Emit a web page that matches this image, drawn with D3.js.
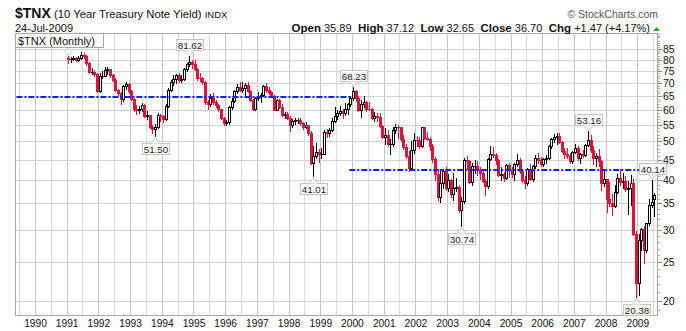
<!DOCTYPE html>
<html><head><meta charset="utf-8">
<script src="https://cdn.jsdelivr.net/npm/d3@7"></script>
<style>
body{margin:0;background:#fff}
svg{display:block;font-family:"Liberation Sans",Arial,sans-serif}
</style>
</head><body>
<svg id="c" width="686" height="331"></svg>
<script>
// ---------------- DATA ($TNX monthly, Jan 1991 - Jul 2009) ----------------
const firstMonth = "1991-01";
const opens = [
 80.8,80.3,80.5,80.8,80.1,80.8,82.4,81.9,78.5,74.7,74.8,73.8,
 67.0,72.9,73.1,75.5,75.7,73.2,71.4,67.1,66.1,63.7,68.7,69.6,
 67.0,63.9,60.3,60.1,60.4,61.6,58.0,58.1,54.5,53.8,54.3,58.2,
 57.9,56.8,61.5,67.4,70.4,71.5,73.2,71.1,71.7,76.0,78.1,79.1,
 78.2,75.9,72.2,72.0,70.6,62.8,62.0,64.3,62.8,61.7,60.2,57.4,
 55.7,55.8,61.0,63.3,66.7,68.5,67.1,67.9,69.4,67.0,63.4,60.4,
 64.2,64.9,65.5,69.0,67.2,66.6,65.0,60.1,63.4,61.0,58.3,58.7,
 57.4,55.1,56.2,56.5,56.7,55.5,54.5,54.9,52.6,44.2,46.1,47.1,
 46.5,46.6,52.9,52.4,53.5,56.2,57.8,59.0,59.7,58.8,60.2,61.9,
 64.4,66.7,64.1,60.0,62.1,62.7,60.3,60.2,57.3,58.0,57.5,54.7,
 51.2,51.9,49.2,49.3,53.5,54.3,54.2,50.7,48.5,46.0,43.0,47.5,
 50.5,50.3,48.8,54.2,51.1,50.6,48.6,45.1,41.4,36.3,39.3,42.2,
 38.3,40.0,37.0,38.3,38.5,33.7,35.4,44.9,44.7,39.6,43.3,43.4,
 42.5,41.6,39.9,38.6,45.3,46.6,46.2,45.0,41.3,41.4,40.5,43.6,
 42.4,41.4,43.8,45.0,42.1,40.0,39.4,42.8,40.2,43.3,45.6,44.9,
 43.9,45.3,45.5,48.6,50.7,51.2,51.5,49.9,47.4,46.4,46.1,44.6,
 47.1,48.3,45.6,46.5,46.3,48.9,50.3,47.7,45.4,45.9,44.8,39.4,
 40.2,35.9,35.1,34.4,37.4,40.6,39.7,39.9,38.1,38.3,39.4,29.3,
 22.2,28.4,30.2,26.7,31.2,34.6,35.89
];
const highs = [
 82.0,81.2,82.0,81.4,81.6,83.6,83.0,82.2,78.9,76.3,75.6,74.0,
 74.0,75.0,76.6,76.8,76.0,73.8,72.0,67.8,66.4,69.4,70.4,70.0,
 67.3,64.2,61.6,61.2,62.4,61.9,59.5,58.3,55.0,55.4,58.8,58.7,
 58.3,61.9,68.0,71.2,73.3,73.6,74.0,73.4,76.4,78.7,81.62,79.9,
 79.7,76.4,74.2,72.6,71.0,63.6,65.8,66.0,63.5,62.2,60.4,57.6,
 56.6,61.5,64.1,67.2,69.5,70.6,70.5,70.0,70.6,67.4,63.8,64.6,
 66.6,66.2,69.4,70.2,68.4,67.0,65.3,63.9,63.8,62.0,59.4,59.2,
 57.8,56.8,57.3,57.4,57.3,55.9,55.9,55.1,53.1,48.7,49.5,47.9,
 48.2,53.3,53.8,54.0,57.3,60.9,60.0,61.2,60.4,62.5,62.4,64.8,
 68.23,67.3,64.9,63.5,65.1,63.1,62.7,60.6,59.3,58.8,59.0,55.1,
 54.0,53.3,50.6,54.2,55.2,54.9,54.4,51.8,49.2,47.4,50.2,52.6,
 51.6,51.3,54.5,54.4,52.8,51.4,49.3,45.8,42.3,42.6,42.7,43.2,
 41.5,40.2,41.6,40.5,39.0,36.4,45.4,46.1,45.0,44.1,44.9,44.7,
 43.2,42.4,40.3,45.6,48.7,48.5,46.8,45.2,43.1,41.9,43.8,44.1,
 43.2,44.1,46.4,45.4,42.4,40.9,43.0,43.9,43.6,46.2,46.7,45.7,
 45.6,46.2,48.9,51.1,52.2,52.5,52.4,50.0,48.1,48.2,46.9,47.4,
 49.3,48.8,46.9,47.6,49.3,53.16,51.8,48.8,46.9,47.8,44.9,42.8,
 40.3,39.6,36.9,38.9,41.4,42.7,41.6,40.9,39.9,41.2,40.3,29.8,
 29.4,30.4,30.8,31.3,36.0,40.14,37.12
];
const lows = [
 78.6,78.8,79.8,79.4,79.5,80.4,81.0,77.8,74.3,73.6,73.0,66.6,
 66.5,72.0,72.8,73.8,72.6,71.0,66.8,65.2,62.2,63.0,67.6,66.2,
 63.6,59.7,58.6,58.9,59.6,57.7,56.9,54.0,52.6,51.50,54.0,56.4,
 55.8,56.5,61.0,66.9,69.3,69.9,70.6,70.6,71.2,75.1,77.4,76.5,
 75.4,71.4,71.0,69.8,62.2,60.2,61.4,62.0,60.9,59.6,56.9,55.0,
 54.9,55.3,60.2,62.6,66.0,66.8,66.4,65.2,66.5,63.0,60.0,60.0,
 63.6,62.8,65.0,66.4,65.6,64.6,59.8,59.9,60.8,57.8,57.3,56.8,
 53.0,54.3,55.2,55.7,54.9,53.7,54.0,51.9,43.8,41.01,45.4,44.4,
 45.4,46.5,51.2,51.5,53.0,55.8,56.9,58.4,57.3,58.3,58.7,61.3,
 63.6,63.1,59.6,57.7,61.0,59.7,59.9,57.0,56.3,56.4,54.2,50.9,
 49.3,48.6,46.4,48.6,52.4,50.9,50.1,47.8,45.4,42.1,42.4,46.7,
 48.7,48.1,48.5,50.6,50.4,47.5,44.5,40.1,35.6,35.3,38.2,37.8,
 37.7,36.4,35.7,37.5,33.4,30.74,35.0,42.6,39.3,39.0,41.8,41.3,
 40.2,39.6,36.8,38.3,44.9,45.7,43.9,41.1,40.1,39.8,40.3,40.7,
 40.8,40.1,43.5,41.7,39.7,38.2,39.0,40.1,39.9,43.0,44.3,43.5,
 43.3,44.2,45.2,48.2,49.8,49.4,49.6,47.0,45.6,45.6,44.3,44.2,
 46.7,45.0,44.2,45.8,46.0,48.6,47.0,43.9,43.5,43.4,37.8,38.8,
 33.4,34.4,32.7,34.3,37.1,38.9,38.2,37.5,33.0,34.6,29.2,20.38,
 20.7,26.7,24.8,26.4,30.9,34.2,32.65
];
const closes = [
 80.3,80.5,80.8,80.1,80.8,82.4,81.9,78.5,74.7,74.8,73.8,67.0,
 72.9,73.1,75.5,75.7,73.2,71.4,67.1,66.1,63.7,68.7,69.6,67.0,
 63.9,60.3,60.1,60.4,61.6,58.0,58.1,54.5,53.8,54.3,58.2,57.9,
 56.8,61.5,67.4,70.4,71.5,73.2,71.1,71.7,76.0,78.1,79.1,78.2,
 75.9,72.2,72.0,70.6,62.8,62.0,64.3,62.8,61.7,60.2,57.4,55.7,
 55.8,61.0,63.3,66.7,68.5,67.1,67.9,69.4,67.0,63.4,60.4,64.2,
 64.9,65.5,69.0,67.2,66.6,65.0,60.1,63.4,61.0,58.3,58.7,57.4,
 55.1,56.2,56.5,56.7,55.5,54.5,54.9,52.6,44.2,46.1,47.1,46.5,
 46.6,52.9,52.4,53.5,56.2,57.8,59.0,59.7,58.8,60.2,61.9,64.4,
 66.7,64.1,60.0,62.1,62.7,60.3,60.2,57.3,58.0,57.5,54.7,51.2,
 51.9,49.2,49.3,53.5,54.3,54.2,50.7,48.5,46.0,43.0,47.5,50.5,
 50.3,48.8,54.2,51.1,50.6,48.6,45.1,41.4,36.3,39.3,42.2,38.3,
 40.0,37.0,38.3,38.5,33.7,35.4,44.9,44.7,39.6,43.3,43.4,42.5,
 41.6,39.9,38.6,45.3,46.6,46.2,45.0,41.3,41.4,40.5,43.6,42.4,
 41.4,43.8,45.0,42.1,40.0,39.4,42.8,40.2,43.3,45.6,44.9,43.9,
 45.3,45.5,48.6,50.7,51.2,51.5,49.9,47.4,46.4,46.1,44.6,47.1,
 48.3,45.6,46.5,46.3,48.9,50.3,47.7,45.4,45.9,44.8,39.4,40.2,
 35.9,35.1,34.4,37.4,40.6,39.7,39.9,38.1,38.3,39.4,29.3,22.2,
 28.4,30.2,26.7,31.2,34.6,35.23,36.70
];
const yearLabels = ["1990","1991","1992","1993","1994","1995","1996","1997","1998","1999",
                    "2000","2001","2002","2003","2004","2005","2006","2007","2008","2009"];
const yTicks = [20,25,30,35,40,45,50,55,60,65,70,75,80,85];
// swing-point annotations
const annotMonths = ["1991-01","1993-10","1994-11","1998-10","2000-01","2003-06","2007-06","2008-12","2009-06"];
const annotValues = [82.0,51.50,81.62,41.01,68.23,30.74,53.16,20.38,40.14];
const annotSides  = ["high","low","high","low","high","low","high","low","high"];
// horizontal dash-dot lines
const trendValues = [64.7,42.4];
const trendFrom   = ["1989-06","1999-12"];
const trendTo     = ["2000-01","2009-12"];

// ---------------- LAYOUT ----------------
const W=686,H=331, L=15,R=658,T=33,B=316;
const RED="#dc143c", BLACK="#000", BLUE="#1022f5";
const svg=d3.select("#c");
const parseM=d3.timeParse("%Y-%m");
const mid = d => d3.timeDay.offset(d,14);
const x=d3.scaleTime().domain([new Date(1990,0,1),new Date(2009,0,1)]).range([35,637.3]);
const y=d3.scaleLog().domain([20,85]).range([300.7,49.3]);
const months=d3.timeMonth.range(parseM(firstMonth), d3.timeMonth.offset(parseM(firstMonth),closes.length));
const data=months.map((d,i)=>({d:mid(d),o:opens[i],h:highs[i],l:lows[i],c:closes[i],pc:i?closes[i-1]:opens[i]}));

// grid
const grid=svg.append("g").attr("shape-rendering","crispEdges");
d3.timeMonth.every(6).range(x.invert(L+1),x.invert(R)).forEach(d=>{
  const xx=Math.round(x(d))+0.5;
  grid.append("line").attr("x1",xx).attr("x2",xx).attr("y1",T).attr("y2",B)
    .attr("stroke",d.getMonth()===0?"#c6c6c6":"#dadada");
});
yTicks.forEach(v=>{
  const yy=Math.round(y(v))+0.5;
  grid.append("line").attr("x1",L).attr("x2",R).attr("y1",yy).attr("y2",yy).attr("stroke","#d2d2d2");
});

// candles
const cg=svg.append("g").attr("shape-rendering","crispEdges");
data.forEach(k=>{
  const cx=Math.round(x(k.d));
  const col=k.c>=k.pc?BLACK:RED;
  const hollow=k.c>k.o;
  cg.append("line").attr("x1",cx+0.5).attr("x2",cx+0.5)
    .attr("y1",Math.round(y(k.h))).attr("y2",Math.round(y(k.l))+1).attr("stroke",col);
  const yt=Math.round(y(Math.max(k.o,k.c))), yb=Math.round(y(Math.min(k.o,k.c)));
  cg.append("rect").attr("x",cx-0.5).attr("y",yt+0.5).attr("width",2).attr("height",Math.max(yb-yt,0.01))
    .attr("fill",hollow?"#fff":col).attr("stroke",col);
});

// trend lines
trendValues.forEach((v,i)=>{
  const x1=Math.max(L,x(parseM(trendFrom[i]))), x2=Math.min(R,x(parseM(trendTo[i])));
  const yy=Math.round(y(v));
  svg.append("line").attr("x1",x1).attr("x2",x2).attr("y1",yy).attr("y2",yy)
    .attr("stroke",BLUE).attr("stroke-width",2).attr("stroke-dasharray","6,2,2,2");
});

// frame
svg.append("rect").attr("x",L+0.5).attr("y",T+0.5).attr("width",R-L-1).attr("height",B-T-1)
  .attr("fill","none").attr("stroke","#a8a8a8").attr("shape-rendering","crispEdges");

// y axis (right)
const yAx=svg.append("g").attr("transform",`translate(${R},0)`)
  .call(d3.axisRight(y).tickValues(yTicks).tickFormat(d3.format("d")).tickSize(4).tickPadding(1));
yAx.select(".domain").remove();
yAx.selectAll("line").attr("stroke","#888").attr("shape-rendering","crispEdges");
yAx.selectAll("text").attr("font-size",10.5).attr("fill","#111").attr("font-family","Liberation Sans, Arial, sans-serif");
const minor=d3.range(19,94).filter(v=>v%5!==0);
const yMin=svg.append("g").attr("transform",`translate(${R},0)`)
  .call(d3.axisRight(y).tickValues(minor).tickFormat("").tickSize(2));
yMin.select(".domain").remove();
yMin.selectAll("line").attr("stroke","#aaa").attr("shape-rendering","crispEdges");

// x axis (years)
const xAx=svg.append("g").attr("transform",`translate(0,${B})`)
  .call(d3.axisBottom(x).tickValues(yearLabels.map(s=>new Date(+s,0,1))).tickFormat(d3.timeFormat("%Y")).tickSize(0).tickPadding(4));
xAx.select(".domain").remove();
xAx.selectAll("text").attr("font-size",10.2).attr("fill","#111").attr("font-family","Liberation Sans, Arial, sans-serif");

// annotations
const ag=svg.append("g");
annotMonths.forEach((m,i)=>{
  const cx=Math.round(x(mid(parseM(m))))+0.5;
  const v=annotValues[i], up=annotSides[i]==="high";
  const tip=up?Math.round(y(v))-1:Math.round(y(v))+2;
  const txt=d3.format(".2f")(v);
  const bw=27,bh=11;
  const by=up?tip-5-bh:tip+5;
  const bx=Math.round(cx-bw/2)+0.5;
  if(i>0){
    ag.append("rect").attr("x",bx).attr("y",by+0.5).attr("width",bw).attr("height",bh)
      .attr("fill","#fff").attr("stroke","#c4c4c4");
    ag.append("text").attr("x",bx+bw/2).attr("y",by+bh-1.5).attr("text-anchor","middle")
      .attr("font-size",9.8).attr("fill","#222").text(txt);
  }
  const base=up?by+bh+0.5:by+0.5;
  ag.append("path").attr("d",`M${cx-4.5},${base} L${cx},${tip} L${cx+4.5},${base}`)
    .attr("fill","#fff").attr("stroke","#c4c4c4");
});

// legend box
svg.append("rect").attr("x",L+0.5).attr("y",T+0.5).attr("width",88).attr("height",14)
  .attr("fill","#fff").attr("stroke","#a8a8a8").attr("shape-rendering","crispEdges");
svg.append("text").attr("x",L+3).attr("y",T+11.5).attr("font-size",11).attr("fill","#111").text("$TNX (Monthly)");

// header
const h1=svg.append("text").attr("x",L).attr("y",18).attr("fill","#111");
h1.append("tspan").attr("font-size",14).attr("font-weight","bold").text("$TNX");
h1.append("tspan").attr("font-size",11.3).text(" (10 Year Treasury Note Yield) ");
h1.append("tspan").attr("font-size",9.5).text("INDX");
svg.append("text").attr("x",L).attr("y",32).attr("font-size",11).attr("fill","#111").text("24-Jul-2009");
svg.append("text").attr("x",658).attr("y",18).attr("text-anchor","end").attr("font-size",10.5).attr("fill","#555").text("\u00A9 StockCharts.com");

const n=closes.length-1;
const f2=d3.format(".2f");
const chg=closes[n]-closes[n-1], pct=chg/closes[n-1]*100;
const stats=[["Open",f2(opens[n])],["High",f2(highs[n])],["Low",f2(lows[n])],["Close",f2(closes[n])],
             ["Chg",(chg>=0?"+":"")+f2(chg)+" ("+(pct>=0?"+":"")+f2(pct)+"%)"]];
const st=svg.append("text").attr("x",650).attr("y",32).attr("text-anchor","end").attr("fill","#111")
  .style("white-space","pre");
stats.forEach((s,i)=>{
  st.append("tspan").attr("font-size",11.5).attr("font-weight","bold").text((i?"  ":"")+s[0]);
  st.append("tspan").attr("font-size",11).text(" "+s[1]);
});
svg.append("path").attr("d","M653,31 L656.5,27 L660,31 Z").attr("fill","#2e9e2e");
</script>
</body></html>
